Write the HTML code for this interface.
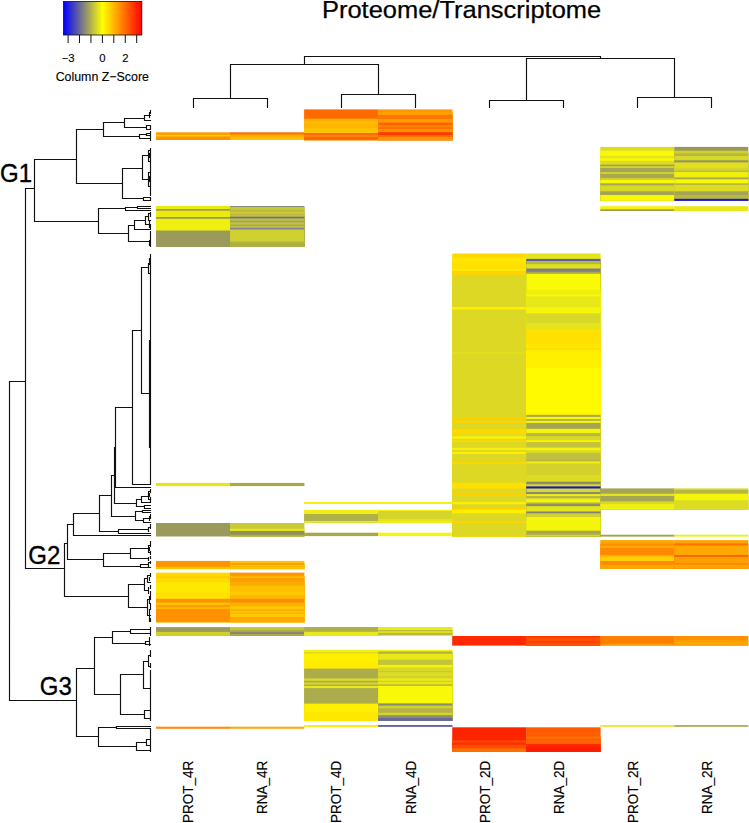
<!DOCTYPE html>
<html><head><meta charset="utf-8"><title>Proteome/Transcriptome</title>
<style>
html,body{margin:0;padding:0;background:#fff}
svg{display:block}
text{font-family:"Liberation Sans",sans-serif;fill:#000}
</style></head><body>
<svg width="749" height="823" viewBox="0 0 749 823">
<defs><linearGradient id="g" x1="0" x2="1" y1="0" y2="0">
<stop offset="0" stop-color="#0000ff"/><stop offset="0.5" stop-color="#ffff00"/><stop offset="1" stop-color="#ff0000"/>
</linearGradient></defs>
<rect width="749" height="823" fill="#fff"/>
<text x="322" y="18.0" font-size="24.2" textLength="279.2" lengthAdjust="spacingAndGlyphs" stroke="#000" stroke-width="0.25">Proteome/Transcriptome</text>
<rect x="63.5" y="1.5" width="78.3" height="33.5" fill="url(#g)" stroke="#111" stroke-width="0.8"/>
<path d="M68.10 35V43M79.53 35V43M90.96 35V43M102.39 35V43M113.82 35V43M125.25 35V43M136.68 35V43" stroke="#111" stroke-width="1" fill="none"/>
<text x="68.1" y="61.6" text-anchor="middle" font-size="11.3" stroke="#000" stroke-width="0.12">−3</text>
<text x="102.4" y="61.6" text-anchor="middle" font-size="11.3" stroke="#000" stroke-width="0.12">0</text>
<text x="125.3" y="61.6" text-anchor="middle" font-size="11.3" stroke="#000" stroke-width="0.12">2</text>
<text x="102.3" y="81" text-anchor="middle" font-size="12.4" stroke="#000" stroke-width="0.12">Column Z−Score</text>
<g>
<rect x="156.00" y="132.30" width="74.35" height="7.70" fill="#ff9800"/>
<rect x="156.00" y="134.80" width="74.35" height="5.20" fill="#ffd000"/>
<rect x="156.00" y="136.50" width="74.35" height="3.50" fill="#ff9000"/>
<rect x="156.00" y="206.00" width="74.35" height="41.00" fill="#eaea10"/>
<rect x="156.00" y="209.00" width="74.35" height="38.00" fill="#9a9a50"/>
<rect x="156.00" y="210.70" width="74.35" height="36.30" fill="#eaea10"/>
<rect x="156.00" y="217.00" width="74.35" height="30.00" fill="#9a9a50"/>
<rect x="156.00" y="218.80" width="74.35" height="28.20" fill="#f0f010"/>
<rect x="156.00" y="230.50" width="74.35" height="16.50" fill="#9a9a5a"/>
<rect x="156.00" y="482.90" width="74.35" height="3.20" fill="#e6e614"/>
<rect x="156.00" y="523.00" width="74.35" height="13.50" fill="#9a9a5a"/>
<rect x="156.00" y="560.90" width="74.35" height="8.20" fill="#ff9400"/>
<rect x="156.00" y="566.80" width="74.35" height="2.30" fill="#ffc400"/>
<rect x="156.00" y="572.60" width="74.35" height="49.50" fill="#ffd800"/>
<rect x="156.00" y="576.40" width="74.35" height="45.70" fill="#ffc800"/>
<rect x="156.00" y="578.00" width="74.35" height="44.10" fill="#ffdc00"/>
<rect x="156.00" y="582.80" width="74.35" height="39.30" fill="#ffe800"/>
<rect x="156.00" y="592.40" width="74.35" height="29.70" fill="#ffe000"/>
<rect x="156.00" y="598.80" width="74.35" height="23.30" fill="#ff9000"/>
<rect x="156.00" y="602.50" width="74.35" height="19.60" fill="#ffc400"/>
<rect x="156.00" y="605.00" width="74.35" height="17.10" fill="#ff9800"/>
<rect x="156.00" y="606.80" width="74.35" height="15.30" fill="#ffb400"/>
<rect x="156.00" y="609.00" width="74.35" height="13.10" fill="#ff9000"/>
<rect x="156.00" y="627.10" width="74.35" height="8.60" fill="#9a9a5c"/>
<rect x="156.00" y="631.90" width="74.35" height="3.80" fill="#d0d028"/>
<rect x="156.00" y="726.70" width="74.35" height="2.10" fill="#ff8c10"/>
<rect x="230.05" y="132.30" width="74.35" height="7.70" fill="#ff6c00"/>
<rect x="230.05" y="134.40" width="74.35" height="5.60" fill="#ffa800"/>
<rect x="230.05" y="136.80" width="74.35" height="3.20" fill="#ffc000"/>
<rect x="230.05" y="206.00" width="74.35" height="41.00" fill="#8a8a7a"/>
<rect x="230.05" y="207.00" width="74.35" height="40.00" fill="#c8c830"/>
<rect x="230.05" y="210.00" width="74.35" height="37.00" fill="#b8b840"/>
<rect x="230.05" y="211.50" width="74.35" height="35.50" fill="#ccc830"/>
<rect x="230.05" y="214.00" width="74.35" height="33.00" fill="#b8b840"/>
<rect x="230.05" y="215.20" width="74.35" height="31.80" fill="#c8c830"/>
<rect x="230.05" y="216.70" width="74.35" height="30.30" fill="#6a6aa0"/>
<rect x="230.05" y="218.40" width="74.35" height="28.60" fill="#c0c040"/>
<rect x="230.05" y="220.50" width="74.35" height="26.50" fill="#a8a850"/>
<rect x="230.05" y="222.50" width="74.35" height="24.50" fill="#c4c43c"/>
<rect x="230.05" y="224.50" width="74.35" height="22.50" fill="#a8a850"/>
<rect x="230.05" y="226.00" width="74.35" height="21.00" fill="#c0c040"/>
<rect x="230.05" y="227.80" width="74.35" height="19.20" fill="#8080a0"/>
<rect x="230.05" y="229.50" width="74.35" height="17.50" fill="#d0d030"/>
<rect x="230.05" y="241.70" width="74.35" height="5.30" fill="#b0b040"/>
<rect x="230.05" y="482.90" width="74.35" height="3.20" fill="#a8a844"/>
<rect x="230.05" y="523.00" width="74.35" height="13.40" fill="#c8c838"/>
<rect x="230.05" y="528.70" width="74.35" height="7.70" fill="#e8e820"/>
<rect x="230.05" y="530.90" width="74.35" height="5.50" fill="#90905a"/>
<rect x="230.05" y="534.80" width="74.35" height="1.60" fill="#b0b040"/>
<rect x="230.05" y="560.90" width="74.35" height="8.20" fill="#ffc000"/>
<rect x="230.05" y="563.00" width="74.35" height="6.10" fill="#ff9c00"/>
<rect x="230.05" y="564.80" width="74.35" height="4.30" fill="#ffc000"/>
<rect x="230.05" y="566.40" width="74.35" height="2.70" fill="#ffb000"/>
<rect x="230.05" y="567.20" width="74.35" height="1.90" fill="#ffc400"/>
<rect x="230.05" y="572.60" width="74.35" height="49.50" fill="#ff9800"/>
<rect x="230.05" y="576.20" width="74.35" height="45.90" fill="#ffbc00"/>
<rect x="230.05" y="578.00" width="74.35" height="44.10" fill="#ff9c00"/>
<rect x="230.05" y="581.70" width="74.35" height="40.40" fill="#ffac00"/>
<rect x="230.05" y="586.00" width="74.35" height="36.10" fill="#ffc000"/>
<rect x="230.05" y="591.30" width="74.35" height="30.80" fill="#ffc800"/>
<rect x="230.05" y="595.00" width="74.35" height="27.10" fill="#ffb800"/>
<rect x="230.05" y="598.80" width="74.35" height="23.30" fill="#ff8c00"/>
<rect x="230.05" y="602.50" width="74.35" height="19.60" fill="#ffb000"/>
<rect x="230.05" y="606.30" width="74.35" height="15.80" fill="#ffc800"/>
<rect x="230.05" y="609.00" width="74.35" height="13.10" fill="#ffb000"/>
<rect x="230.05" y="611.00" width="74.35" height="11.10" fill="#ffc400"/>
<rect x="230.05" y="613.00" width="74.35" height="9.10" fill="#ffb400"/>
<rect x="230.05" y="614.00" width="74.35" height="8.10" fill="#ffc800"/>
<rect x="230.05" y="617.00" width="74.35" height="5.10" fill="#ffa800"/>
<rect x="230.05" y="627.10" width="74.35" height="8.60" fill="#c4c438"/>
<rect x="230.05" y="630.30" width="74.35" height="5.40" fill="#a8a850"/>
<rect x="230.05" y="632.10" width="74.35" height="3.60" fill="#84847c"/>
<rect x="230.05" y="634.10" width="74.35" height="1.60" fill="#b0b048"/>
<rect x="230.05" y="726.70" width="74.35" height="2.10" fill="#ffa810"/>
<rect x="304.10" y="109.40" width="74.35" height="30.70" fill="#ff6a00"/>
<rect x="304.10" y="118.70" width="74.35" height="21.40" fill="#ffb000"/>
<rect x="304.10" y="121.00" width="74.35" height="19.10" fill="#ffbc00"/>
<rect x="304.10" y="124.00" width="74.35" height="16.10" fill="#ffb400"/>
<rect x="304.10" y="128.00" width="74.35" height="12.10" fill="#ffc000"/>
<rect x="304.10" y="131.00" width="74.35" height="9.10" fill="#ffc400"/>
<rect x="304.10" y="133.00" width="74.35" height="7.10" fill="#ff6800"/>
<rect x="304.10" y="134.90" width="74.35" height="5.20" fill="#ff8c00"/>
<rect x="304.10" y="136.80" width="74.35" height="3.30" fill="#ff6400"/>
<rect x="304.10" y="501.90" width="74.35" height="2.10" fill="#f4f010"/>
<rect x="304.10" y="509.80" width="74.35" height="12.80" fill="#f0ee14"/>
<rect x="304.10" y="514.00" width="74.35" height="8.60" fill="#b0b048"/>
<rect x="304.10" y="521.00" width="74.35" height="1.60" fill="#ecec18"/>
<rect x="304.10" y="532.70" width="74.35" height="3.40" fill="#a8a848"/>
<rect x="304.10" y="627.00" width="74.35" height="9.00" fill="#b0b048"/>
<rect x="304.10" y="631.80" width="74.35" height="4.20" fill="#e8e81c"/>
<rect x="304.10" y="644.60" width="74.35" height="1.10" fill="#ffffe4"/>
<rect x="304.10" y="649.80" width="74.35" height="71.10" fill="#f4f00c"/>
<rect x="304.10" y="652.00" width="74.35" height="68.90" fill="#e0dc20"/>
<rect x="304.10" y="653.70" width="74.35" height="67.20" fill="#fff000"/>
<rect x="304.10" y="661.00" width="74.35" height="59.90" fill="#ffec00"/>
<rect x="304.10" y="668.60" width="74.35" height="52.30" fill="#acac4c"/>
<rect x="304.10" y="678.50" width="74.35" height="42.40" fill="#dcdc24"/>
<rect x="304.10" y="680.70" width="74.35" height="40.20" fill="#b0b048"/>
<rect x="304.10" y="682.60" width="74.35" height="38.30" fill="#d8d828"/>
<rect x="304.10" y="684.60" width="74.35" height="36.30" fill="#a8a850"/>
<rect x="304.10" y="685.90" width="74.35" height="35.00" fill="#e8e81c"/>
<rect x="304.10" y="688.10" width="74.35" height="32.80" fill="#acac4c"/>
<rect x="304.10" y="703.60" width="74.35" height="17.30" fill="#fff000"/>
<rect x="304.10" y="712.00" width="74.35" height="8.90" fill="#ffe800"/>
<rect x="304.10" y="725.00" width="74.35" height="1.90" fill="#ffec00"/>
<rect x="378.15" y="109.40" width="74.35" height="30.70" fill="#ff9800"/>
<rect x="378.15" y="112.50" width="74.35" height="27.60" fill="#ffa400"/>
<rect x="378.15" y="113.60" width="74.35" height="26.50" fill="#ff9800"/>
<rect x="378.15" y="115.10" width="74.35" height="25.00" fill="#ff7400"/>
<rect x="378.15" y="118.90" width="74.35" height="21.20" fill="#ff9c00"/>
<rect x="378.15" y="122.60" width="74.35" height="17.50" fill="#ff6000"/>
<rect x="378.15" y="125.30" width="74.35" height="14.80" fill="#ff8c00"/>
<rect x="378.15" y="126.90" width="74.35" height="13.20" fill="#ff7000"/>
<rect x="378.15" y="129.00" width="74.35" height="11.10" fill="#ff9000"/>
<rect x="378.15" y="132.20" width="74.35" height="7.90" fill="#ff3800"/>
<rect x="378.15" y="134.90" width="74.35" height="5.20" fill="#ff7000"/>
<rect x="378.15" y="137.00" width="74.35" height="3.10" fill="#ff9400"/>
<rect x="378.15" y="501.90" width="74.35" height="2.10" fill="#f4f010"/>
<rect x="378.15" y="509.80" width="74.35" height="12.80" fill="#f0ee14"/>
<rect x="378.15" y="511.00" width="74.35" height="11.60" fill="#d4d42c"/>
<rect x="378.15" y="519.00" width="74.35" height="3.60" fill="#e4e41c"/>
<rect x="378.15" y="521.00" width="74.35" height="1.60" fill="#f0f010"/>
<rect x="378.15" y="532.70" width="74.35" height="3.40" fill="#f4f40c"/>
<rect x="378.15" y="627.00" width="74.35" height="9.00" fill="#eaea18"/>
<rect x="378.15" y="630.20" width="74.35" height="5.80" fill="#b0b048"/>
<rect x="378.15" y="631.30" width="74.35" height="4.70" fill="#eaea18"/>
<rect x="378.15" y="632.80" width="74.35" height="3.20" fill="#b8b840"/>
<rect x="378.15" y="635.00" width="74.35" height="1.00" fill="#eaea18"/>
<rect x="378.15" y="644.60" width="74.35" height="1.10" fill="#ffffe4"/>
<rect x="378.15" y="649.80" width="74.35" height="71.10" fill="#f0f010"/>
<rect x="378.15" y="651.50" width="74.35" height="69.40" fill="#b0b040"/>
<rect x="378.15" y="653.70" width="74.35" height="67.20" fill="#e8e818"/>
<rect x="378.15" y="659.70" width="74.35" height="61.20" fill="#c4c438"/>
<rect x="378.15" y="664.90" width="74.35" height="56.00" fill="#f4f40c"/>
<rect x="378.15" y="667.30" width="74.35" height="53.60" fill="#d8d828"/>
<rect x="378.15" y="671.00" width="74.35" height="49.90" fill="#ccc834"/>
<rect x="378.15" y="672.20" width="74.35" height="48.70" fill="#dcdc24"/>
<rect x="378.15" y="676.00" width="74.35" height="44.90" fill="#d0d030"/>
<rect x="378.15" y="678.30" width="74.35" height="42.60" fill="#ecec14"/>
<rect x="378.15" y="680.70" width="74.35" height="40.20" fill="#d0d030"/>
<rect x="378.15" y="682.10" width="74.35" height="38.80" fill="#e8e818"/>
<rect x="378.15" y="684.30" width="74.35" height="36.60" fill="#b8b840"/>
<rect x="378.15" y="685.90" width="74.35" height="35.00" fill="#f8f808"/>
<rect x="378.15" y="703.40" width="74.35" height="17.50" fill="#8c8c70"/>
<rect x="378.15" y="705.60" width="74.35" height="15.30" fill="#d0d030"/>
<rect x="378.15" y="708.30" width="74.35" height="12.60" fill="#b4b444"/>
<rect x="378.15" y="712.70" width="74.35" height="8.20" fill="#d4d42c"/>
<rect x="378.15" y="715.20" width="74.35" height="5.70" fill="#8c8c70"/>
<rect x="378.15" y="718.10" width="74.35" height="2.80" fill="#68689c"/>
<rect x="378.15" y="725.00" width="74.35" height="1.90" fill="#6464a0"/>
<rect x="452.20" y="253.50" width="74.35" height="282.80" fill="#ffd800"/>
<rect x="452.20" y="257.80" width="74.35" height="278.50" fill="#ffe800"/>
<rect x="452.20" y="261.70" width="74.35" height="274.60" fill="#ffe000"/>
<rect x="452.20" y="268.90" width="74.35" height="267.40" fill="#fff000"/>
<rect x="452.20" y="270.60" width="74.35" height="265.70" fill="#ffd400"/>
<rect x="452.20" y="274.90" width="74.35" height="261.40" fill="#dcd824"/>
<rect x="452.20" y="307.00" width="74.35" height="229.30" fill="#fff000"/>
<rect x="452.20" y="309.50" width="74.35" height="226.80" fill="#dcd824"/>
<rect x="452.20" y="352.30" width="74.35" height="184.00" fill="#e6e21c"/>
<rect x="452.20" y="353.60" width="74.35" height="182.70" fill="#dcd824"/>
<rect x="452.20" y="416.90" width="74.35" height="119.40" fill="#ffd000"/>
<rect x="452.20" y="419.10" width="74.35" height="117.20" fill="#dcd824"/>
<rect x="452.20" y="420.80" width="74.35" height="115.50" fill="#ffd400"/>
<rect x="452.20" y="422.90" width="74.35" height="113.40" fill="#dcd824"/>
<rect x="452.20" y="428.80" width="74.35" height="107.50" fill="#ffd800"/>
<rect x="452.20" y="433.10" width="74.35" height="103.20" fill="#e4dc20"/>
<rect x="452.20" y="436.10" width="74.35" height="100.20" fill="#f8f008"/>
<rect x="452.20" y="438.90" width="74.35" height="97.40" fill="#dcd824"/>
<rect x="452.20" y="440.40" width="74.35" height="95.90" fill="#ffd800"/>
<rect x="452.20" y="442.10" width="74.35" height="94.20" fill="#dcd824"/>
<rect x="452.20" y="447.80" width="74.35" height="88.50" fill="#f8f008"/>
<rect x="452.20" y="450.00" width="74.35" height="86.30" fill="#dcd824"/>
<rect x="452.20" y="451.80" width="74.35" height="84.50" fill="#fff000"/>
<rect x="452.20" y="454.00" width="74.35" height="82.30" fill="#dcd824"/>
<rect x="452.20" y="461.80" width="74.35" height="74.50" fill="#ffd800"/>
<rect x="452.20" y="463.90" width="74.35" height="72.40" fill="#dcd824"/>
<rect x="452.20" y="482.70" width="74.35" height="53.60" fill="#ffe000"/>
<rect x="452.20" y="488.70" width="74.35" height="47.60" fill="#e0d824"/>
<rect x="452.20" y="493.80" width="74.35" height="42.50" fill="#ffd000"/>
<rect x="452.20" y="495.90" width="74.35" height="40.40" fill="#dcd824"/>
<rect x="452.20" y="501.90" width="74.35" height="34.40" fill="#f8f008"/>
<rect x="452.20" y="504.30" width="74.35" height="32.00" fill="#dcd824"/>
<rect x="452.20" y="507.60" width="74.35" height="28.70" fill="#ffd000"/>
<rect x="452.20" y="509.70" width="74.35" height="26.60" fill="#fff000"/>
<rect x="452.20" y="513.30" width="74.35" height="23.00" fill="#dcd824"/>
<rect x="452.20" y="521.10" width="74.35" height="15.20" fill="#ffd400"/>
<rect x="452.20" y="523.30" width="74.35" height="13.00" fill="#dcd824"/>
<rect x="452.20" y="636.00" width="74.35" height="9.60" fill="#ff2800"/>
<rect x="452.20" y="727.30" width="74.35" height="24.70" fill="#ff2400"/>
<rect x="452.20" y="740.30" width="74.35" height="11.70" fill="#ff4800"/>
<rect x="452.20" y="742.60" width="74.35" height="9.40" fill="#ff2c00"/>
<rect x="452.20" y="744.80" width="74.35" height="7.20" fill="#ff4c00"/>
<rect x="452.20" y="748.30" width="74.35" height="3.70" fill="#ff7000"/>
<rect x="526.25" y="253.50" width="74.35" height="282.80" fill="#e4e41c"/>
<rect x="526.25" y="258.90" width="74.35" height="277.40" fill="#5c5ca8"/>
<rect x="526.25" y="261.00" width="74.35" height="275.30" fill="#b8b840"/>
<rect x="526.25" y="264.20" width="74.35" height="272.10" fill="#e0e020"/>
<rect x="526.25" y="268.50" width="74.35" height="267.80" fill="#80807a"/>
<rect x="526.25" y="271.70" width="74.35" height="264.60" fill="#a8a850"/>
<rect x="526.25" y="273.80" width="74.35" height="262.50" fill="#fafa06"/>
<rect x="526.25" y="289.90" width="74.35" height="246.40" fill="#f0f010"/>
<rect x="526.25" y="294.60" width="74.35" height="241.70" fill="#fafa06"/>
<rect x="526.25" y="296.30" width="74.35" height="240.00" fill="#e8e818"/>
<rect x="526.25" y="307.00" width="74.35" height="229.30" fill="#f4f40c"/>
<rect x="526.25" y="313.40" width="74.35" height="222.90" fill="#d8d828"/>
<rect x="526.25" y="323.00" width="74.35" height="213.30" fill="#e4e41c"/>
<rect x="526.25" y="328.80" width="74.35" height="207.50" fill="#ffe000"/>
<rect x="526.25" y="344.30" width="74.35" height="192.00" fill="#ffe800"/>
<rect x="526.25" y="348.00" width="74.35" height="188.30" fill="#ffdc00"/>
<rect x="526.25" y="349.60" width="74.35" height="186.70" fill="#ffec00"/>
<rect x="526.25" y="351.00" width="74.35" height="185.30" fill="#fff000"/>
<rect x="526.25" y="367.80" width="74.35" height="168.50" fill="#fffa00"/>
<rect x="526.25" y="414.80" width="74.35" height="121.50" fill="#a8a850"/>
<rect x="526.25" y="416.90" width="74.35" height="119.40" fill="#f8f808"/>
<rect x="526.25" y="419.00" width="74.35" height="117.30" fill="#b0b048"/>
<rect x="526.25" y="420.80" width="74.35" height="115.50" fill="#f8f808"/>
<rect x="526.25" y="422.90" width="74.35" height="113.40" fill="#a4a454"/>
<rect x="526.25" y="428.80" width="74.35" height="107.50" fill="#f4f40c"/>
<rect x="526.25" y="433.10" width="74.35" height="103.20" fill="#b8b840"/>
<rect x="526.25" y="436.10" width="74.35" height="100.20" fill="#d8d828"/>
<rect x="526.25" y="440.00" width="74.35" height="96.30" fill="#f8f008"/>
<rect x="526.25" y="442.10" width="74.35" height="94.20" fill="#c4c43c"/>
<rect x="526.25" y="447.60" width="74.35" height="88.70" fill="#f4f40c"/>
<rect x="526.25" y="450.40" width="74.35" height="85.90" fill="#d8d828"/>
<rect x="526.25" y="453.10" width="74.35" height="83.20" fill="#c0c040"/>
<rect x="526.25" y="459.60" width="74.35" height="76.70" fill="#b4b444"/>
<rect x="526.25" y="461.30" width="74.35" height="75.00" fill="#f4ec0c"/>
<rect x="526.25" y="463.50" width="74.35" height="72.80" fill="#d4d02c"/>
<rect x="526.25" y="475.00" width="74.35" height="61.30" fill="#dcdc24"/>
<rect x="526.25" y="481.70" width="74.35" height="54.60" fill="#8c8c68"/>
<rect x="526.25" y="484.20" width="74.35" height="52.10" fill="#d8d828"/>
<rect x="526.25" y="486.40" width="74.35" height="49.90" fill="#1414d8"/>
<rect x="526.25" y="488.50" width="74.35" height="47.80" fill="#dcdc24"/>
<rect x="526.25" y="492.00" width="74.35" height="44.30" fill="#88887c"/>
<rect x="526.25" y="494.10" width="74.35" height="42.20" fill="#f0f010"/>
<rect x="526.25" y="496.00" width="74.35" height="40.30" fill="#b8b840"/>
<rect x="526.25" y="498.00" width="74.35" height="38.30" fill="#d8d828"/>
<rect x="526.25" y="499.20" width="74.35" height="37.10" fill="#f4f40c"/>
<rect x="526.25" y="502.40" width="74.35" height="33.90" fill="#c0c038"/>
<rect x="526.25" y="503.70" width="74.35" height="32.60" fill="#909068"/>
<rect x="526.25" y="506.20" width="74.35" height="30.10" fill="#e4e41c"/>
<rect x="526.25" y="511.50" width="74.35" height="24.80" fill="#808078"/>
<rect x="526.25" y="513.30" width="74.35" height="23.00" fill="#d0d030"/>
<rect x="526.25" y="516.90" width="74.35" height="19.40" fill="#f4f40c"/>
<rect x="526.25" y="530.70" width="74.35" height="5.60" fill="#a8a850"/>
<rect x="526.25" y="534.70" width="74.35" height="1.60" fill="#d8d828"/>
<rect x="526.25" y="636.00" width="74.35" height="9.60" fill="#ff3000"/>
<rect x="526.25" y="637.50" width="74.35" height="8.10" fill="#ff5000"/>
<rect x="526.25" y="641.40" width="74.35" height="4.20" fill="#ff4000"/>
<rect x="526.25" y="643.10" width="74.35" height="2.50" fill="#ff5400"/>
<rect x="526.25" y="727.30" width="74.35" height="24.70" fill="#ff5c00"/>
<rect x="526.25" y="736.60" width="74.35" height="15.40" fill="#ff7400"/>
<rect x="526.25" y="738.70" width="74.35" height="13.30" fill="#ff5800"/>
<rect x="526.25" y="740.30" width="74.35" height="11.70" fill="#ff6400"/>
<rect x="526.25" y="744.00" width="74.35" height="8.00" fill="#ff2800"/>
<rect x="526.25" y="746.70" width="74.35" height="5.30" fill="#ff1c00"/>
<rect x="600.30" y="146.90" width="74.35" height="54.00" fill="#dcdc24"/>
<rect x="600.30" y="150.70" width="74.35" height="50.20" fill="#f8f808"/>
<rect x="600.30" y="156.00" width="74.35" height="44.90" fill="#e4e41c"/>
<rect x="600.30" y="158.20" width="74.35" height="42.70" fill="#f8f808"/>
<rect x="600.30" y="160.80" width="74.35" height="40.10" fill="#dcdc24"/>
<rect x="600.30" y="164.60" width="74.35" height="36.30" fill="#a0a058"/>
<rect x="600.30" y="166.20" width="74.35" height="34.70" fill="#d4d42c"/>
<rect x="600.30" y="168.00" width="74.35" height="32.90" fill="#a4a454"/>
<rect x="600.30" y="172.00" width="74.35" height="28.90" fill="#d0d030"/>
<rect x="600.30" y="174.00" width="74.35" height="26.90" fill="#a8a850"/>
<rect x="600.30" y="177.90" width="74.35" height="23.00" fill="#d0d030"/>
<rect x="600.30" y="180.00" width="74.35" height="20.90" fill="#f8f808"/>
<rect x="600.30" y="183.30" width="74.35" height="17.60" fill="#a8a850"/>
<rect x="600.30" y="185.40" width="74.35" height="15.50" fill="#d8d828"/>
<rect x="600.30" y="191.30" width="74.35" height="9.60" fill="#a4a454"/>
<rect x="600.30" y="195.00" width="74.35" height="5.90" fill="#f8f808"/>
<rect x="600.30" y="206.20" width="74.35" height="4.80" fill="#f4f40c"/>
<rect x="600.30" y="209.20" width="74.35" height="1.80" fill="#a8a050"/>
<rect x="600.30" y="488.40" width="74.35" height="21.30" fill="#a4a454"/>
<rect x="600.30" y="493.70" width="74.35" height="16.00" fill="#e4e41c"/>
<rect x="600.30" y="496.00" width="74.35" height="13.70" fill="#a4a454"/>
<rect x="600.30" y="501.30" width="74.35" height="8.40" fill="#d8d828"/>
<rect x="600.30" y="504.20" width="74.35" height="5.50" fill="#f0f010"/>
<rect x="600.30" y="534.70" width="74.35" height="1.90" fill="#a8a050"/>
<rect x="600.30" y="540.10" width="74.35" height="28.50" fill="#ffa400"/>
<rect x="600.30" y="543.70" width="74.35" height="24.90" fill="#ff8c00"/>
<rect x="600.30" y="545.80" width="74.35" height="22.80" fill="#ffac00"/>
<rect x="600.30" y="547.90" width="74.35" height="20.70" fill="#ff8800"/>
<rect x="600.30" y="554.80" width="74.35" height="13.80" fill="#ffb000"/>
<rect x="600.30" y="556.70" width="74.35" height="11.90" fill="#ffd000"/>
<rect x="600.30" y="561.00" width="74.35" height="7.60" fill="#ff8c00"/>
<rect x="600.30" y="564.70" width="74.35" height="3.90" fill="#ffa400"/>
<rect x="600.30" y="636.00" width="74.35" height="9.60" fill="#ff8000"/>
<rect x="600.30" y="643.90" width="74.35" height="1.70" fill="#ffa000"/>
<rect x="600.30" y="725.10" width="74.35" height="1.70" fill="#e8e818"/>
<rect x="674.35" y="146.90" width="73.95" height="54.00" fill="#98985c"/>
<rect x="674.35" y="150.70" width="73.95" height="50.20" fill="#d0d030"/>
<rect x="674.35" y="153.40" width="73.95" height="47.50" fill="#b8b840"/>
<rect x="674.35" y="156.00" width="73.95" height="44.90" fill="#d8d828"/>
<rect x="674.35" y="160.30" width="73.95" height="40.60" fill="#949460"/>
<rect x="674.35" y="162.40" width="73.95" height="38.50" fill="#e0e020"/>
<rect x="674.35" y="167.80" width="73.95" height="33.10" fill="#d4d42c"/>
<rect x="674.35" y="170.40" width="73.95" height="30.50" fill="#c0c038"/>
<rect x="674.35" y="172.00" width="73.95" height="28.90" fill="#f0f010"/>
<rect x="674.35" y="177.40" width="73.95" height="23.50" fill="#a8a850"/>
<rect x="674.35" y="179.30" width="73.95" height="21.60" fill="#f8f808"/>
<rect x="674.35" y="183.30" width="73.95" height="17.60" fill="#b4b444"/>
<rect x="674.35" y="184.90" width="73.95" height="16.00" fill="#dcdc24"/>
<rect x="674.35" y="191.30" width="73.95" height="9.60" fill="#a4a454"/>
<rect x="674.35" y="195.00" width="73.95" height="5.90" fill="#b8b840"/>
<rect x="674.35" y="198.80" width="73.95" height="2.10" fill="#1818dc"/>
<rect x="674.35" y="206.20" width="73.95" height="4.80" fill="#e8e818"/>
<rect x="674.35" y="488.40" width="73.95" height="21.30" fill="#d8d828"/>
<rect x="674.35" y="490.00" width="73.95" height="19.70" fill="#b8b840"/>
<rect x="674.35" y="493.70" width="73.95" height="16.00" fill="#f4f40c"/>
<rect x="674.35" y="500.30" width="73.95" height="9.40" fill="#dcdc24"/>
<rect x="674.35" y="534.70" width="73.95" height="1.90" fill="#f0f010"/>
<rect x="674.35" y="540.10" width="73.95" height="28.50" fill="#ffa400"/>
<rect x="674.35" y="543.40" width="73.95" height="25.20" fill="#ff7000"/>
<rect x="674.35" y="545.50" width="73.95" height="23.10" fill="#ffa800"/>
<rect x="674.35" y="555.10" width="73.95" height="13.50" fill="#ff5400"/>
<rect x="674.35" y="556.70" width="73.95" height="11.90" fill="#ffa000"/>
<rect x="674.35" y="563.10" width="73.95" height="5.50" fill="#ff8400"/>
<rect x="674.35" y="564.70" width="73.95" height="3.90" fill="#ffa400"/>
<rect x="674.35" y="636.00" width="73.95" height="9.60" fill="#ff9000"/>
<rect x="674.35" y="640.30" width="73.95" height="5.30" fill="#ffa400"/>
<rect x="674.35" y="725.10" width="73.95" height="1.70" fill="#a8a850"/>
</g>
<path d="M193.5 107.5V98.5M267.5 107.5V98.5M193.5 98.5H267.5M341.5 107.5V94.5M415.5 107.5V94.5M341.5 94.5H415.5M489.5 107.5V100.5M563.5 107.5V100.5M489.5 100.5H563.5M637.5 107.5V97.5M711.5 107.5V97.5M637.5 97.5H711.5M230.5 64.5H378.5M230.5 64.5V98.5M378.5 64.5V94.5M526.5 58.5H674.5M526.5 58.5V100.5M674.5 58.5V97.5M304.5 56.5H600.5M304.5 56.5V64.5M600.5 56.5V58.5M9.5 381.5V700.5M9.5 381.5H25.5M25.5 188.5V568.5M25.5 188.5H34.5M34.5 159.5V221.5M34.5 159.5H76.5M76.5 129.5V183.5M76.5 129.5H103.5M103.5 122.5V136.5M103.5 122.5H124.5M124.5 118.5V127.5M124.5 118.5H144.5M144.5 115.5V120.5M144.5 115.5H150.5M144.5 120.5H150.5M149.5 112.5V117.5M150.5 110.5V113.5M149.5 112.5H150.5M124.5 127.5H146.5M146.5 125.5V129.5M146.5 125.5H150.5M146.5 129.5H150.5M150.5 125.5V129.5M103.5 136.5H139.5M139.5 134.5V138.5M139.5 134.5H146.5M146.5 133.5V135.5M146.5 133.5H150.5M146.5 135.5H150.5M139.5 138.5H150.5M150.5 131.5V140.5M76.5 183.5H122.5M122.5 168.5V198.5M122.5 168.5H142.5M142.5 155.5V179.5M142.5 155.5H148.5M148.5 150.5V161.5M150.5 148.5V163.5M148.5 150.5H150.5M148.5 161.5H150.5M149.5 153.5V157.5M142.5 179.5H148.5M148.5 172.5V186.5M150.5 169.5V188.5M148.5 172.5H150.5M148.5 186.5H150.5M149.5 176.5V181.5M150.5 164.5V169.5M122.5 198.5H143.5M143.5 197.5V200.5M143.5 197.5H150.5M143.5 200.5H150.5M150.5 197.5V200.5M150.5 188.5V195.5M34.5 221.5H98.5M98.5 208.5V233.5M98.5 208.5H125.5M125.5 207.5V210.5M125.5 207.5H137.5M137.5 206.5V208.5M137.5 206.5H150.5M137.5 208.5H150.5M125.5 210.5H150.5M98.5 233.5H128.5M128.5 225.5V241.5M128.5 225.5H134.5M134.5 220.5V229.5M134.5 220.5H145.5M145.5 216.5V224.5M145.5 216.5H148.5M145.5 224.5H149.5M148.5 213.5V220.5M149.5 221.5V227.5M150.5 212.5V216.5M150.5 224.5V228.5M148.5 213.5H150.5M148.5 220.5H150.5M134.5 229.5H150.5M128.5 241.5H149.5M149.5 240.5V245.5M150.5 231.5V246.5M150.5 254.5V484.5M149.5 340.5V447.5M148.5 263.5V273.5M141.5 267.5H148.5M148.5 263.5H150.5M148.5 273.5H150.5M149.5 258.5V264.5M141.5 267.5V393.5M141.5 393.5H148.5M132.5 330.5H141.5M132.5 330.5V484.5M132.5 484.5H150.5M115.5 407.5H132.5M115.5 407.5V487.5M115.5 487.5H150.5M114.5 447.5V503.5M114.5 503.5H136.5M136.5 499.5V506.5M136.5 499.5H141.5M141.5 496.5V502.5M141.5 496.5H148.5M148.5 491.5V499.5M148.5 491.5H150.5M148.5 499.5H150.5M150.5 489.5V492.5M150.5 497.5V501.5M149.5 493.5V496.5M141.5 502.5H150.5M136.5 506.5H144.5M144.5 505.5V508.5M144.5 505.5H150.5M144.5 508.5H150.5M111.5 475.5H114.5M111.5 475.5V516.5M111.5 516.5H135.5M135.5 511.5V520.5M135.5 511.5H142.5M142.5 510.5V512.5M142.5 510.5H150.5M142.5 512.5H150.5M135.5 520.5H143.5M143.5 518.5V522.5M143.5 518.5H150.5M143.5 522.5H150.5M149.5 516.5V520.5M150.5 514.5V517.5M99.5 495.5H111.5M99.5 495.5V531.5M99.5 531.5H118.5M118.5 529.5V533.5M118.5 529.5H148.5M148.5 527.5V531.5M150.5 524.5V528.5M148.5 527.5H150.5M118.5 533.5H150.5M73.5 513.5H99.5M73.5 513.5V535.5M73.5 535.5H150.5M67.5 524.5H73.5M67.5 524.5V559.5M67.5 559.5H103.5M103.5 553.5V566.5M103.5 553.5H130.5M130.5 548.5V558.5M130.5 548.5H148.5M148.5 545.5V552.5M148.5 545.5H150.5M148.5 552.5H150.5M150.5 541.5V546.5M150.5 551.5V554.5M149.5 547.5V550.5M130.5 558.5H148.5M148.5 557.5V560.5M150.5 556.5V558.5M103.5 566.5H140.5M140.5 564.5V567.5M140.5 564.5H148.5M140.5 567.5H150.5M148.5 562.5V566.5M150.5 561.5V563.5M148.5 562.5H150.5M64.5 543.5H67.5M64.5 543.5V596.5M25.5 568.5H64.5M64.5 596.5H128.5M128.5 584.5V607.5M128.5 584.5H144.5M144.5 578.5V590.5M144.5 578.5H147.5M147.5 575.5V582.5M147.5 575.5H150.5M147.5 582.5H150.5M150.5 573.5V576.5M149.5 577.5V580.5M144.5 590.5H148.5M148.5 587.5V593.5M150.5 585.5V588.5M150.5 591.5V594.5M128.5 607.5H147.5M147.5 599.5V615.5M147.5 599.5H150.5M147.5 615.5H150.5M149.5 596.5V603.5M149.5 609.5V621.5M150.5 594.5V598.5M150.5 603.5V609.5M150.5 618.5V621.5M9.5 700.5H76.5M76.5 668.5V736.5M76.5 668.5H94.5M94.5 637.5V694.5M94.5 637.5H112.5M112.5 631.5V643.5M112.5 631.5H130.5M130.5 629.5V633.5M130.5 629.5H150.5M130.5 633.5H150.5M150.5 627.5V635.5M112.5 643.5H145.5M145.5 641.5V644.5M145.5 641.5H149.5M145.5 644.5H150.5M149.5 637.5V645.5M94.5 694.5H120.5M120.5 674.5V714.5M120.5 674.5H143.5M143.5 661.5V688.5M143.5 661.5H148.5M148.5 655.5V666.5M150.5 650.5V656.5M150.5 663.5V667.5M148.5 655.5H150.5M148.5 666.5H150.5M143.5 688.5H150.5M150.5 670.5V720.5M120.5 714.5H144.5M144.5 710.5V718.5M144.5 710.5H150.5M144.5 718.5H150.5M76.5 736.5H98.5M98.5 727.5V746.5M98.5 727.5H116.5M116.5 726.5V728.5M116.5 726.5H150.5M116.5 728.5H150.5M98.5 746.5H136.5M136.5 742.5V750.5M136.5 742.5H146.5M146.5 739.5V745.5M146.5 739.5H150.5M146.5 745.5H150.5M136.5 750.5H150.5M150.5 728.5V751.5" stroke="#111" stroke-width="1.15" stroke-linecap="square" fill="none"/>
<text transform="translate(0 182.4) scale(0.935 1)" font-size="25.7" stroke="#000" stroke-width="0.35">G1</text>
<text transform="translate(28.2 563.7) scale(0.935 1)" font-size="25.7" stroke="#000" stroke-width="0.35">G2</text>
<text transform="translate(39.8 695.2) scale(0.935 1)" font-size="25.7" stroke="#000" stroke-width="0.35">G3</text>
<text transform="translate(193.3 760.6) rotate(-90) scale(0.94 1)" text-anchor="end" font-size="14.4" stroke="#000" stroke-width="0.15">PROT_4R</text>
<text transform="translate(267.4 760.6) rotate(-90) scale(0.94 1)" text-anchor="end" font-size="14.4" stroke="#000" stroke-width="0.15">RNA_4R</text>
<text transform="translate(341.4 760.6) rotate(-90) scale(0.94 1)" text-anchor="end" font-size="14.4" stroke="#000" stroke-width="0.15">PROT_4D</text>
<text transform="translate(415.5 760.6) rotate(-90) scale(0.94 1)" text-anchor="end" font-size="14.4" stroke="#000" stroke-width="0.15">RNA_4D</text>
<text transform="translate(489.5 760.6) rotate(-90) scale(0.94 1)" text-anchor="end" font-size="14.4" stroke="#000" stroke-width="0.15">PROT_2D</text>
<text transform="translate(563.6 760.6) rotate(-90) scale(0.94 1)" text-anchor="end" font-size="14.4" stroke="#000" stroke-width="0.15">RNA_2D</text>
<text transform="translate(637.6 760.6) rotate(-90) scale(0.94 1)" text-anchor="end" font-size="14.4" stroke="#000" stroke-width="0.15">PROT_2R</text>
<text transform="translate(711.7 760.6) rotate(-90) scale(0.94 1)" text-anchor="end" font-size="14.4" stroke="#000" stroke-width="0.15">RNA_2R</text>
</svg>
</body></html>
